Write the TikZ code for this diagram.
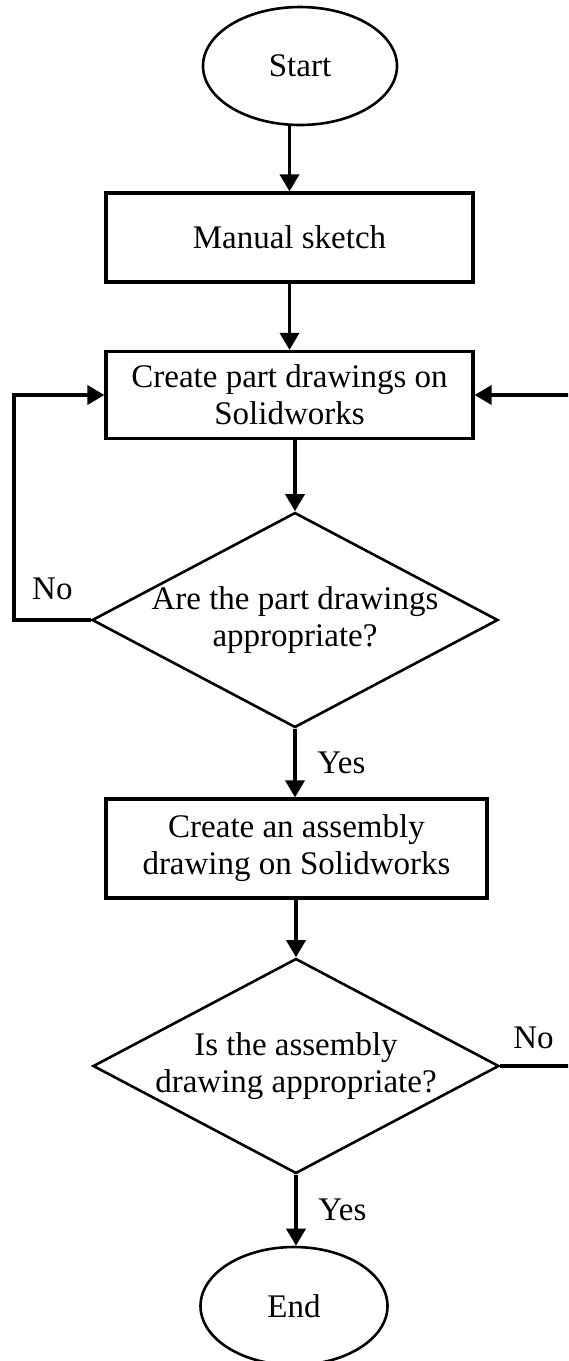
\documentclass[tikz,border=0pt]{standalone}
\usepackage{fontspec}
\setmainfont{Liberation Serif}
\usetikzlibrary{shapes.geometric, arrows.meta}

\begin{document}
\begin{tikzpicture}[x=0.5pt, y=-0.5pt, every node/.style={font=\fontsize{16.5pt}{18.5pt}\selectfont}]
% Styles
\tikzstyle{startstop} = [ellipse, minimum width=97pt, minimum height=59pt, text centered, draw=black, line width=1.3pt]
\tikzstyle{process} = [rectangle, minimum width=183.5pt, minimum height=44pt, text centered, draw=black, line width=1.6pt, align=center]
\tikzstyle{decision} = [diamond, aspect=1.888, inner xsep=-2pt, inner ysep=0pt, minimum width=203pt, minimum height=107.5pt, text centered, draw=black, line width=1.3pt, align=center]
\tikzstyle{arrow} = [line width=1.8pt, -{Triangle[length=8.5pt, width=9.5pt]}]

\useasboundingbox (0,0) rectangle (568,1361);
\clip (0,0) rectangle (568,1361);

\node (start) [startstop] at (300,66) {Start};
\node (sketch) [process, minimum height=44.5pt] at (289.5,237.5) {Manual sketch};
\node (part_drawings) [process, minimum height=43.5pt] at (289.5,395) {Create part drawings on\\Solidworks};
\node (check_part) [decision] at (295,620) {Are the part drawings\\appropriate?};
\node (assembly) [process, minimum width=190.5pt, minimum height=49.5pt] at (296.5,848.5) {Create an assembly\\drawing on Solidworks};
\node (check_assembly) [decision] at (296,1066) {Is the assembly\\drawing appropriate?};
\node (end) [startstop, minimum width=93.5pt] at (294,1306) {End};

\coordinate (loop_left) at (14,620);
\coordinate (loop_right) at (590,1066);

\draw [arrow] (start.south -| sketch) -- (sketch);
\draw [arrow] (sketch) -- (part_drawings);
\draw [arrow] (part_drawings.south -| check_part) -- (check_part);
\draw [arrow] (check_part.south) -- node[right=7pt] {Yes} (check_part.south |- assembly.north);
\draw [arrow] (assembly.south -| check_assembly) -- (check_assembly);
\draw [arrow] (check_assembly.south) -- node[right=7pt] {Yes} (check_assembly.south |- end.north);
\draw [arrow] (check_part.west) -- node[above=6pt] {No} (loop_left) |- (part_drawings.west);
\draw [arrow] (check_assembly.east) -- node[above=4.5pt, pos=0.37] {No} (loop_right) |- (part_drawings.east);

\end{tikzpicture}
\end{document}
